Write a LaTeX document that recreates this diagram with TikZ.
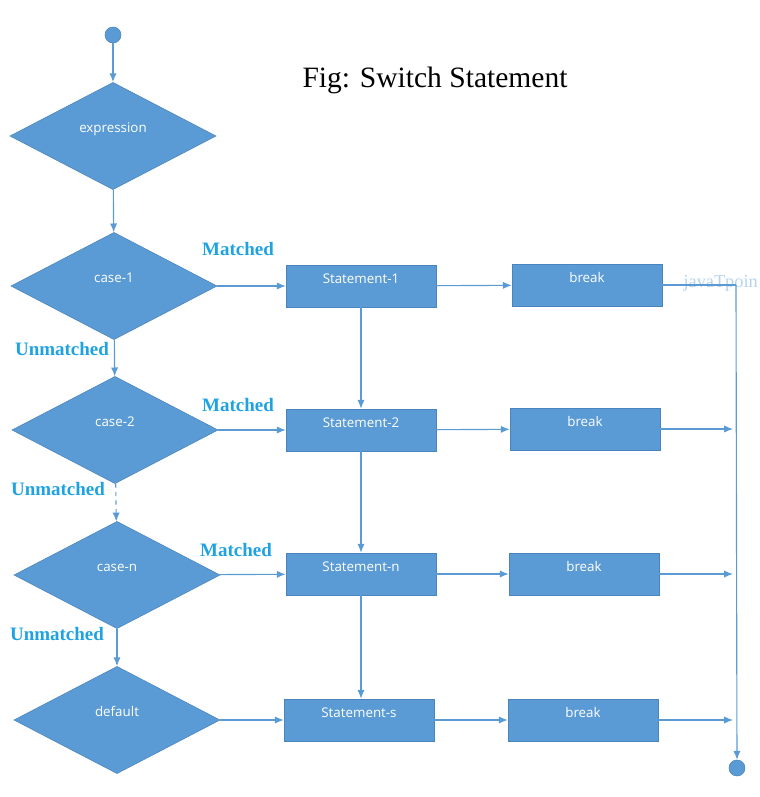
\documentclass[tikz,border=0pt]{standalone}
\usepackage{fontspec}
\setmainfont{Liberation Serif}
\newfontfamily\boxfont{Open Sans}
\usetikzlibrary{arrows.meta,shapes.geometric}
\definecolor{flowblue}{HTML}{5B9BD5}
\definecolor{flowedge}{HTML}{4A84BC}
\definecolor{labelblue}{HTML}{1FA2E2}
\definecolor{markblue}{HTML}{B4D3EC}

\begin{document}
\begin{tikzpicture}[x=0.025cm,y=-0.025cm,
        decision/.style = {draw=flowedge, fill=flowblue, diamond, minimum width=5.15cm, minimum height=2.68cm, inner sep=1pt, text=white, font=\boxfont\fontsize{9.5}{10}\selectfont, text height=6pt, text depth=11pt},
        block/.style = {draw=flowedge, fill=flowblue, rectangle, minimum width=3.75cm, minimum height=1.05cm, inner sep=2pt, text=white, font=\boxfont\fontsize{9.5}{10}\selectfont, text height=6pt, text depth=9.5pt},
        dot/.style = {draw=flowedge, fill=flowblue, circle, minimum size=0.4cm, inner sep=0pt},
        flow/.style = {draw=flowblue, line width=0.8pt, -{Latex[length=2.2mm,width=1.8mm]}},
        tag/.style = {text=labelblue, font=\bfseries\fontsize{13.5}{15}\selectfont}]
        \useasboundingbox (0,0) rectangle (760,797);

        \node[dot] (start) at (113,35) {};
        \node[decision] (expr) at (113,136) {expression};
        \node[decision] (c1) at (114,286) {case-1};
        \node[decision] (c2) at (115,430) {case-2};
        \node[decision] (cn) at (117,575) {case-n};
        \node[decision] (def) at (117,720) {default};

        \node[block] (s1) at (361,286) {Statement-1};
        \node[block] (s2) at (361,430) {Statement-2};
        \node[block] (sn) at (361,574) {Statement-n};
        \node[block] (ss) at (359,720) {Statement-s};

        \node[block] (b1) at (587,285) {break};
        \node[block] (b2) at (585,429) {break};
        \node[block] (bn) at (584,574) {break};
        \node[block] (bs) at (583,720) {break};

        \node[dot] (stop) at (737,768) {};
        \coordinate (j1) at (736,285);
        \coordinate (j2) at (733,429);
        \coordinate (jn) at (733,574);
        \coordinate (js) at (733,720);

        \node[font=\fontsize{21}{24}\selectfont] (title) at (435,80) {Fig: Switch Statement};
        \node[text=markblue, font=\fontsize{13}{14}\selectfont, inner sep=0pt, anchor=east] (mark) at (758,283) {javaTpoin};

        \draw[flow] (start) -- (expr);
        \draw[flow] (expr) -- (c1);
        \draw[flow] (c1) -- (c2);
        \draw[flow, dashed] (c2) -- (cn);
        \draw[flow] (cn) -- (def);
        \node[tag] at (62,349) {Unmatched};
        \node[tag] at (58,489) {Unmatched};
        \node[tag] at (57,634) {Unmatched};

        \draw[flow] (c1) -- (s1);
        \draw[flow] (c2) -- (s2);
        \draw[flow] (cn) -- (sn);
        \draw[flow] (def) -- (ss);
        \node[tag] at (238,249) {Matched};
        \node[tag] at (238,405) {Matched};
        \node[tag] at (236,550) {Matched};

        \draw[flow] (s1) -- (s2);
        \draw[flow] (s2) -- (sn);
        \draw[flow] (sn.south) -- (sn.south |- ss.north);

        \draw[flow] (s1) -- (b1);
        \draw[flow] (s2) -- (b2);
        \draw[flow] (sn) -- (bn);
        \draw[flow] (ss) -- (bs);

        \draw[draw=flowblue, line width=0.8pt] (b1) -- (j1);
        \draw[flow] (j1) -- (stop);
        \draw[flow] (b2) -- (j2);
        \draw[flow] (bn) -- (jn);
        \draw[flow] (bs) -- (js);
\end{tikzpicture}
\end{document}
